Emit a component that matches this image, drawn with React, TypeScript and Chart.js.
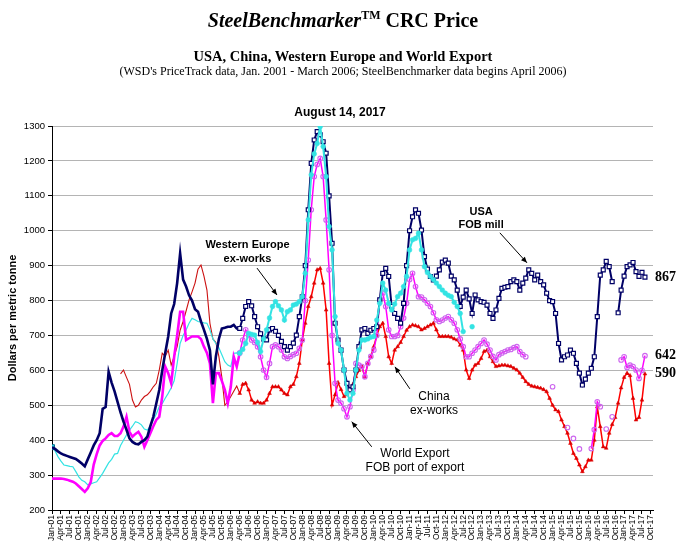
import React, { useEffect, useRef } from 'react';
import { Chart, registerables } from 'chart.js';

Chart.register(...registerables);

// Month index 0 = Jan-2001. SteelBenchmarker data begins April 2006 (index 63).
const SB_START = 63;
const X_MAX = 201.7;

const QUARTER_NAMES = ['Jan', 'Apr', 'Jul', 'Oct'];
const YEARS = [2001, 2002, 2003, 2004, 2005, 2006, 2007, 2008, 2009, 2010, 2011, 2012, 2013, 2014, 2015, 2016, 2017];
const QUARTER_LABELS: string[] = [];
YEARS.forEach((y) => QUARTER_NAMES.forEach((m) => QUARTER_LABELS.push(`${m}-${String(y % 100).padStart(2, '0')}`)));

// USA FOB mill (monthly, Jan-01 .. Aug-17)
const usa: (number | null)[] = [
  380, 375, 368, 362, 358, 355, 352, 349, 346, 340, 333, 325,
  345, 365, 385, 400, 420, 490, 495, 596, 565, 540, 510, 480,
  453, 430, 405, 395, 390, 388, 395, 400, 410, 440, 467, 505,
  544, 600, 650, 697, 763, 790, 850, 935, 860, 840, 815, 800,
  775, 768, 740, 716, 690, 658, 560, 640, 690, 720, 722, 725,
  725, 730, 720, 720, 749, 783, 797, 785, 754, 725, 705, 690,
  687, 716, 720, 712, 700, 683, 668, 658, 668, 678, 701, 754,
  811, 900, 1060, 1193, 1260, 1284, 1275, 1255, 1222, 1100, 964, 735,
  687, 658, 601, 563, 544, 553, 601, 668, 716, 720, 706, 715,
  720, 725, 802, 878, 892, 869, 783, 763, 749, 735, 792, 900,
  1000, 1040, 1060, 1050, 1002, 926, 890, 869, 859, 870, 888, 910,
  916, 907, 870, 859, 830, 783, 810, 830, 805, 763, 816, 802,
  797, 795, 787, 763, 749, 773, 806, 835, 838, 840, 854, 859,
  854, 830, 850, 864, 888, 878, 859, 873, 854, 845, 821, 800,
  797, 763, 677, 630, 639, 644, 658, 649, 620, 592, 558, 575,
  592, 606, 639, 754, 873, 888, 912, 897, 854, null, 765, 830,
  870, 897, 902, 909, 883, 869, 881, 867,
];

// Western Europe ex-works
const westernEurope: (number | null)[] = [
  380, 370, 353, 340, 329, 327, 325, 324, 310, 295, 285, 281,
  272, 275, 278, 281, 293, 305, 320, 335, 345, 360, 362, 385,
  400, 415, 429, 440, 453, 450, 444, 432, 429, 440, 458, 475,
  496, 505, 520, 534, 550, 570, 620, 677, 700, 716, 735, 749,
  745, 740, 738, 736, 735, 716, 690, 677, 665, 645, 625, 615,
  611, 649, 650, 649, 660, 677, 706, 703, 701, 680, 654, 690,
  716, 750, 783, 797, 785, 773, 744, 768, 773, 787, 790, 797,
  811, 878, 1031, 1160, 1220, 1250, 1298, 1241, 1155, 1012, 945, 754,
  677, 658, 601, 534, 515, 534, 601, 658, 687, 687, 690, 695,
  697, 744, 792, 850, 830, 792, 773, 790, 811, 821, 840, 869,
  945, 974, 978, 993, 945, 897, 880, 869, 860, 850, 840, 830,
  821, 815, 811, 795, 783, 763, 711, null, null, 725, null, null,
  null, null, null, null, null, null, null, null, null, null, null, null,
  null, null, null, null, null, null, null, null, null, null, null, null,
  null, null, null, null, null, null, null, null, null, null, null, null,
  null, null, null, null, null, null, null, null, null, null, null, null,
  null, null, null, null, null, null, null, null,
];

// China ex-works
const china: (number | null)[] = [
  290, 290, 290, 290, 289, 287, 284, 281, 276, 268, 260, 252,
  262, 280, 330, 360, 385, 398, 405, 415, 420, 412, 412, 420,
  439, 467, 424, 410, 418, 424, 410, 381, 400, 420, 440, 458,
  467, 525, 611, 592, 563, 639, 700, 768, 768, 687, 692, 697,
  697, 697, 690, 668, 650, 620, 506, 592, 592, 570, 544, 506,
  553, 639, 611, 650, 687, 716, 700, 687, 680, 668, 639, 601,
  580, 620, 668, 673, 668, 658, 639, 634, 640, 645, 649, 663,
  687, 800, 916, 1060, 1155, 1190, 1207, 1155, 1031, 888, 700, 563,
  515, 506, 490, 467, 496, 544, 620, 615, 611, 582, 620, 640,
  658, 700, 802, 821, 783, 716, 697, 697, 700, 725, 750, 792,
  860, 878, 840, 811, 810, 802, 792, 783, 765, 745, 740, 744,
  750, 754, 745, 735, 716, 690, 668, 639, 639, 649, 658, 668,
  677, 687, 675, 658, 640, 630, 645, 650, 654, 658, 660, 665,
  668, 654, 645, 639, null, null, null, null, null, null, null, null,
  553, null, null, null, null, 436, null, 405, null, 375, null, null,
  null, 376, 430, 510, 496, null, 432, null, 467, null, null, 630,
  639, 608, 615, 611, 601, 577, 600, 642,
];

// World Export FOB port of export
const worldExport: (number | null)[] = [
  null, null, null, null, null, null, null, null, null, null, null, null,
  null, null, null, null, null, null, null, null, null, null, null, 590,
  601, 580, 560, 515, 495, 500, 515, 525, 530, 540, 553, 563,
  601, 649, 640, 658, 615, 640, 668, 715, 740, 770, 802, 825,
  850, 890, 902, 870, 830, 735, 690, 680, 640, 580, 500, 510,
  525, 540, 555, 534, 560, 563, 544, 515, 506, 510, 506, 506,
  515, 534, 553, 553, 553, 544, 534, 530, 553, 560, 582, 620,
  687, 735, 783, 811, 850, 888, 892, 850, 773, 620, 501, 530,
  565, 545, 525, 530, 545, 560, 582, 600, 611, 582, 620, 640,
  668, 700, 725, 735, 697, 639, 620, 658, 668, 680, 697, 715,
  725, 730, 728, 725, 716, 720, 725, 730, 735, 716, 697, 697,
  697, 697, 695, 690, 687, 672, 658, 601, 577, 601, 615, 620,
  634, 654, 658, 639, 625, 611, 613, 615, 615, 613, 611, 606,
  601, 592, 580, 568, 560, 555, 553, 551, 549, 545, 539, 520,
  500, 487, 482, 458, 439, 420, 391, 362, 348, 329, 310, 324,
  343, 343, 400, 496, 439, 381, 377, 420, 445, 465, 506, 550,
  580, 592, 585, 520, 458, 465, 515, 590,
];

// Callout notes, anchored in data coordinates (month index, $/t)
const NOTES = [
  { lines: ['Western Europe', 'ex-works'], m: 65.6, v: 959, bold: true, from: [68.8, 893], to: [75.5, 816] },
  { lines: ['USA', 'FOB mill'], m: 144, v: 1054, bold: true, from: [150.3, 994], to: [159.4, 908] },
  { lines: ['China', 'ex-works'], m: 128.2, v: 524, bold: false, from: [120.1, 547], to: [115.1, 610] },
  { lines: ['World Export', 'FOB port of export'], m: 121.8, v: 360, bold: false, from: [107.3, 381], to: [100.6, 453] },
];

const END_LABELS = [usa, china, worldExport];

const SANS = '"Liberation Sans", Arial, sans-serif';
const SERIF = '"Liberation Serif", "Times New Roman", serif';

const NAVY = '#000066';
const CYAN = '#33e3e3';
const MAGENTA = '#ff00ff';
const VIOLET = '#cc66ee';
const RED = '#ff0000';
const DARKRED = '#cc1111';

function pts(arr: (number | null)[], from: number, to: number) {
  const out: { x: number; y: number | null }[] = [];
  for (let i = from; i <= Math.min(to, arr.length - 1); i++) out.push({ x: i, y: arr[i] });
  return out;
}

function lastValue(arr: (number | null)[]) {
  for (let i = arr.length - 1; i >= 0; i--) if (arr[i] != null) return arr[i] as number;
  return null;
}

function drawArrow(ctx: CanvasRenderingContext2D, x1: number, y1: number, x2: number, y2: number) {
  ctx.beginPath();
  ctx.moveTo(x1, y1);
  ctx.lineTo(x2, y2);
  ctx.stroke();
  const a = Math.atan2(y2 - y1, x2 - x1);
  const L = 6, W = 2.6;
  ctx.beginPath();
  ctx.moveTo(x2, y2);
  ctx.lineTo(x2 - L * Math.cos(a) + W * Math.sin(a), y2 - L * Math.sin(a) - W * Math.cos(a));
  ctx.lineTo(x2 - L * Math.cos(a) - W * Math.sin(a), y2 - L * Math.sin(a) + W * Math.cos(a));
  ctx.closePath();
  ctx.fill();
}

const notesPlugin = {
  id: 'notes',
  afterDatasetsDraw(chart: any) {
    const { ctx, scales, chartArea } = chart;
    const xs = scales.x, ys = scales.y;
    ctx.save();
    ctx.fillStyle = '#000';
    ctx.strokeStyle = '#000';
    ctx.lineWidth = 1;
    ctx.textAlign = 'center';
    ctx.textBaseline = 'middle';
    NOTES.forEach((n) => {
      ctx.font = `${n.bold ? 'bold ' : ''}${n.bold ? 11 : 12}px ${SANS}`;
      const cx = xs.getPixelForValue(n.m);
      const cy = ys.getPixelForValue(n.v);
      n.lines.forEach((t, i) => ctx.fillText(t, cx, cy + i * 13.5));
      drawArrow(ctx, xs.getPixelForValue(n.from[0]), ys.getPixelForValue(n.from[1]), xs.getPixelForValue(n.to[0]), ys.getPixelForValue(n.to[1]));
    });
    ctx.textAlign = 'left';
    ctx.font = `bold 14px ${SERIF}`;
    END_LABELS.forEach((arr) => {
      const v = lastValue(arr);
      if (v == null) return;
      ctx.fillText(String(v), chartArea.right + 2, ys.getPixelForValue(v));
    });
    ctx.restore();
  },
};

export default function App() {
  const ref = useRef<HTMLCanvasElement>(null);

  useEffect(() => {
    const canvas = ref.current;
    if (!canvas) return;
    const datasets: any[] = [
      // SteelBenchmarker era (with markers)
      {
        data: pts(westernEurope, SB_START, 199), order: 1, borderColor: CYAN, borderWidth: 2,
        pointStyle: 'circle', pointRadius: 2.4, pointBackgroundColor: CYAN, pointBorderColor: CYAN, pointBorderWidth: 0.5,
      },
      {
        data: pts(usa, SB_START, 199), order: 2, borderColor: NAVY, borderWidth: 2,
        pointStyle: 'rect', pointRadius: 2.8, pointBackgroundColor: '#ffffff', pointBorderColor: NAVY, pointBorderWidth: 1.2,
      },
      {
        data: pts(china, SB_START, 199), order: 3, borderColor: MAGENTA, borderWidth: 1.5,
        pointStyle: 'circle', pointRadius: 2.3, pointBackgroundColor: 'rgba(255,255,255,0)', pointBorderColor: VIOLET, pointBorderWidth: 1.1,
      },
      {
        data: pts(worldExport, SB_START, 199), order: 4, borderColor: RED, borderWidth: 1.5,
        pointStyle: 'triangle', pointRadius: 2.2, pointBackgroundColor: '#dd0000', pointBorderColor: '#dd0000', pointBorderWidth: 0.5,
      },
      // WSD PriceTrack era (plain lines)
      { data: pts(usa, 0, SB_START), order: 5, borderColor: NAVY, borderWidth: 2.6, pointRadius: 0 },
      { data: pts(china, 0, SB_START), order: 6, borderColor: MAGENTA, borderWidth: 2.6, pointRadius: 0 },
      {
        data: pts(westernEurope, 0, SB_START), order: 7, borderColor: CYAN, borderWidth: 1.2,
        pointStyle: 'rect', pointRadius: (c: any) => (c.dataIndex === 0 ? 3.5 : 0),
        pointBackgroundColor: CYAN, pointBorderColor: '#006688', pointBorderWidth: 1,
      },
      { data: pts(worldExport, 0, SB_START), order: 8, borderColor: DARKRED, borderWidth: 1.1, pointRadius: 0 },
    ];

    const chart = new Chart(canvas, {
      type: 'line',
      data: { datasets },
      plugins: [notesPlugin],
      options: {
        animation: false,
        responsive: false,
        devicePixelRatio: 1,
        spanGaps: false,
        events: [],
        layout: { padding: { left: 0, top: 126, right: 46, bottom: 0 } },
        elements: { line: { tension: 0 } },
        plugins: { legend: { display: false }, tooltip: { enabled: false }, title: { display: false } },
        scales: {
          x: {
            type: 'linear',
            min: 0,
            max: X_MAX,
            afterBuildTicks: (s: any) => {
              s.ticks = QUARTER_LABELS.map((_, i) => ({ value: i * 3 }));
            },
            afterFit: (s: any) => {
              s.height = 41;
            },
            ticks: {
              autoSkip: false,
              minRotation: 90,
              maxRotation: 90,
              padding: 1,
              color: '#000',
              font: { size: 8.5, family: SANS },
              callback: (v: any) => QUARTER_LABELS[Math.round(Number(v) / 3)] ?? '',
            },
            grid: { drawOnChartArea: false, drawTicks: true, tickLength: 4, tickColor: '#000' },
            border: { color: '#000', width: 1 },
          },
          y: {
            min: 200,
            max: 1300,
            afterFit: (s: any) => {
              s.width = 52;
            },
            ticks: {
              stepSize: 100,
              padding: 3,
              color: '#000',
              font: { size: 9.5, family: SANS },
              callback: (v: any) => String(v),
            },
            grid: { color: '#b4b4b4', lineWidth: 1, tickLength: 4, tickColor: '#000' },
            border: { color: '#000', width: 1 },
            title: {
              display: true,
              text: 'Dollars per metric tonne',
              color: '#000',
              font: { size: 11, weight: 'bold', family: SANS },
              padding: { top: 6, bottom: 0 },
            },
          },
        },
      } as any,
    });
    return () => chart.destroy();
  }, []);

  return (
    <div style={{ position: 'fixed', left: 0, top: 0, width: 699, height: 551, background: '#fff', overflow: 'hidden' }}>
      <canvas ref={ref} width={699} height={551} style={{ position: 'absolute', left: 0, top: 0, width: 699, height: 551 }} />
      <div style={{ position: 'absolute', left: 0, top: 8, width: 686, textAlign: 'center', fontFamily: SERIF, fontWeight: 'bold', fontSize: 20, lineHeight: '24px', color: '#000' }}>
        <i>SteelBenchmarker</i>
        <span style={{ fontSize: 12, position: 'relative', top: -8 }}>TM</span> CRC Price
      </div>
      <div style={{ position: 'absolute', left: 0, top: 47, width: 686, textAlign: 'center', fontFamily: SERIF, fontWeight: 'bold', fontSize: 14.5, lineHeight: '18px', color: '#000' }}>
        USA, China, Western Europe and World Export
      </div>
      <div style={{ position: 'absolute', left: 0, top: 63, width: 686, textAlign: 'center', fontFamily: SERIF, fontSize: 12, lineHeight: '16px', color: '#000' }}>
        (WSD's PriceTrack data, Jan. 2001 - March 2006; SteelBenchmarker data begins April 2006)
      </div>
      <div style={{ position: 'absolute', left: 0, top: 105, width: 680, textAlign: 'center', fontFamily: SANS, fontWeight: 'bold', fontSize: 12, lineHeight: '15px', color: '#000' }}>
        August 14, 2017
      </div>
    </div>
  );
}
